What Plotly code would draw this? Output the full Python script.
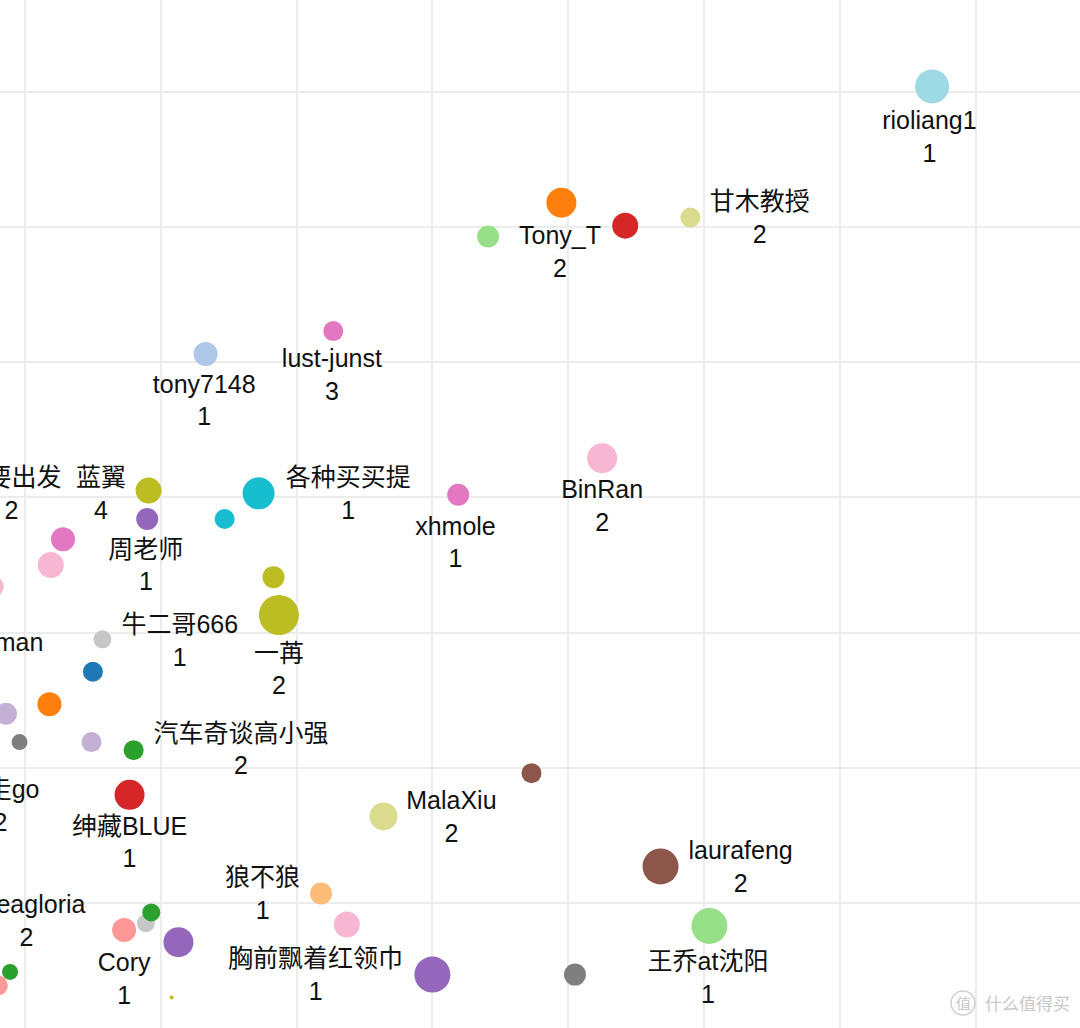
import plotly.graph_objects as go

# ---- point data (data units) ----
pt_x = [6.68, 3.95, 4.42, 4.90, 3.41, 2.27, 1.33, 4.25, 3.19, 1.72, 1.47, 0.91, 0.90, 0.28, 0.19, -0.23,
        1.83, 1.87, 0.57, 0.50, 0.18, -0.14, -0.04, 0.49, 0.80, 0.77, 3.73, 2.64, 4.68, 5.04, 2.18, 2.37,
        3.00, 4.05, 1.13, 0.89, 0.93, 0.73, 1.08, -0.11, -0.20]
pt_y = [6.04, 5.18, 5.01, 5.07, 4.93, 4.23, 4.06, 3.29, 3.02, 3.03, 2.84, 3.05, 2.84, 2.69, 2.50, 2.34,
        2.41, 2.13, 1.95, 1.71, 1.47, 1.40, 1.19, 1.19, 1.13, 0.80, 0.96, 0.64, 0.27, -0.17, 0.07, -0.16,
        -0.53, -0.53, -0.29, -0.15, -0.07, -0.20, -0.70, -0.51, -0.61]
pt_size = [34, 30, 26, 20, 22, 20, 24, 30, 22, 32, 20, 26, 22, 24, 26, 20,
           22, 40, 18, 20, 24, 22, 16, 20, 20, 30, 20, 28, 36, 36, 22, 26,
           36, 22, 30, 18, 18, 24, 4, 16, 20]
pt_color = ["#9edae5", "#ff7f0e", "#d62728", "#dbdb8d", "#98df8a", "#e377c2", "#aec7e8", "#f7b6d2",
            "#e377c2", "#17becf", "#17becf", "#bcbd22", "#9467bd", "#e377c2", "#f7b6d2", "#f7b6d2",
            "#bcbd22", "#bcbd22", "#c7c7c7", "#1f77b4", "#ff7f0e", "#c5b0d5", "#7f7f7f", "#c5b0d5",
            "#2ca02c", "#d62728", "#8c564b", "#dbdb8d", "#8c564b", "#98df8a", "#ffbb78", "#f7b6d2",
            "#9467bd", "#7f7f7f", "#9467bd", "#c7c7c7", "#2ca02c", "#ff9896", "#bcbd22", "#2ca02c",
            "#ff9896"]

# ---- label data ----
lab_name = ["rioliang1", "甘木教授", "Tony_T", "lust-junst", "tony7148", "BinRan", "xhmole", "各种买买提",
            "蓝翼", "我要出发", "周老师", "牛二哥666", "一苒", "Spiderman", "汽车奇谈高小强", "走走go",
            "绅藏BLUE", "狼不狼", "MalaXiu", "laurafeng", "王乔at沈阳", "胸前飘着红领巾", "Cory", "Theagloria"]
lab_count = [1, 2, 2, 3, 1, 2, 1, 1, 4, 2, 1, 1, 2, 1, 2, 2, 1, 1, 2, 2, 1, 1, 1, 2]
lab_x = [6.66, 5.41, 3.94, 2.26, 1.32, 4.25, 3.17, 2.38, 0.56, -0.10, 0.89, 1.14, 1.87, -0.31, 1.59, -0.18,
         0.77, 1.75, 3.14, 5.27, 5.03, 2.14, 0.73, 0.01]
lab_y = [5.65, 5.05, 4.80, 3.89, 3.70, 2.92, 2.65, 3.01, 3.01, 3.01, 2.48, 1.92, 1.71, 1.79, 1.12, 0.70,
         0.43, 0.05, 0.62, 0.25, -0.57, -0.55, -0.58, -0.15]

FONT = "Liberation Sans, Arial, Noto Sans CJK SC, sans-serif"

fig = go.Figure()
fig.add_trace(go.Scatter(
    x=pt_x, y=pt_y, mode="markers",
    marker=dict(size=pt_size, color=pt_color, line=dict(width=0), opacity=1),
    hoverinfo="skip", showlegend=False, cliponaxis=True,
))
fig.add_trace(go.Scatter(
    x=lab_x, y=lab_y, mode="text",
    text=[f"{n}<br>{c}" for n, c in zip(lab_name, lab_count)],
    textposition="middle center",
    textfont=dict(family=FONT, size=25, color="#111111"),
    hoverinfo="skip", showlegend=False, cliponaxis=True,
))

# watermark
fig.add_shape(type="circle", xref="paper", yref="paper",
              x0=951 / 1080, x1=975 / 1080, y0=1 - 1015 / 1028, y1=1 - 991 / 1028,
              line=dict(color="#cfcfcf", width=1.5))
fig.add_annotation(text="值", xref="paper", yref="paper", x=963 / 1080, y=1 - 1003 / 1028,
                   xanchor="center", yanchor="middle",
                   showarrow=False, font=dict(family=FONT, size=15, color="#c8c8c8"))
fig.add_annotation(text="什么值得买", xref="paper", yref="paper", x=1027 / 1080, y=1 - 1004 / 1028,
                   xanchor="center", yanchor="middle",
                   showarrow=False, font=dict(family=FONT, size=17, color="#c8c8c8"))

fig.update_layout(
    width=1080, height=1028,
    margin=dict(l=0, r=0, t=0, b=0),
    paper_bgcolor="white", plot_bgcolor="white",
    xaxis=dict(range=[-0.184, 7.769], tick0=0, dtick=1, showticklabels=False, ticks="",
               showgrid=True, gridcolor="#ececec", gridwidth=2, zeroline=False, showline=False),
    yaxis=dict(range=[-0.925, 6.679], tick0=0, dtick=1, showticklabels=False, ticks="",
               showgrid=True, gridcolor="#ececec", gridwidth=2, zeroline=False, showline=False),
)

fig.write_html("out.html")
